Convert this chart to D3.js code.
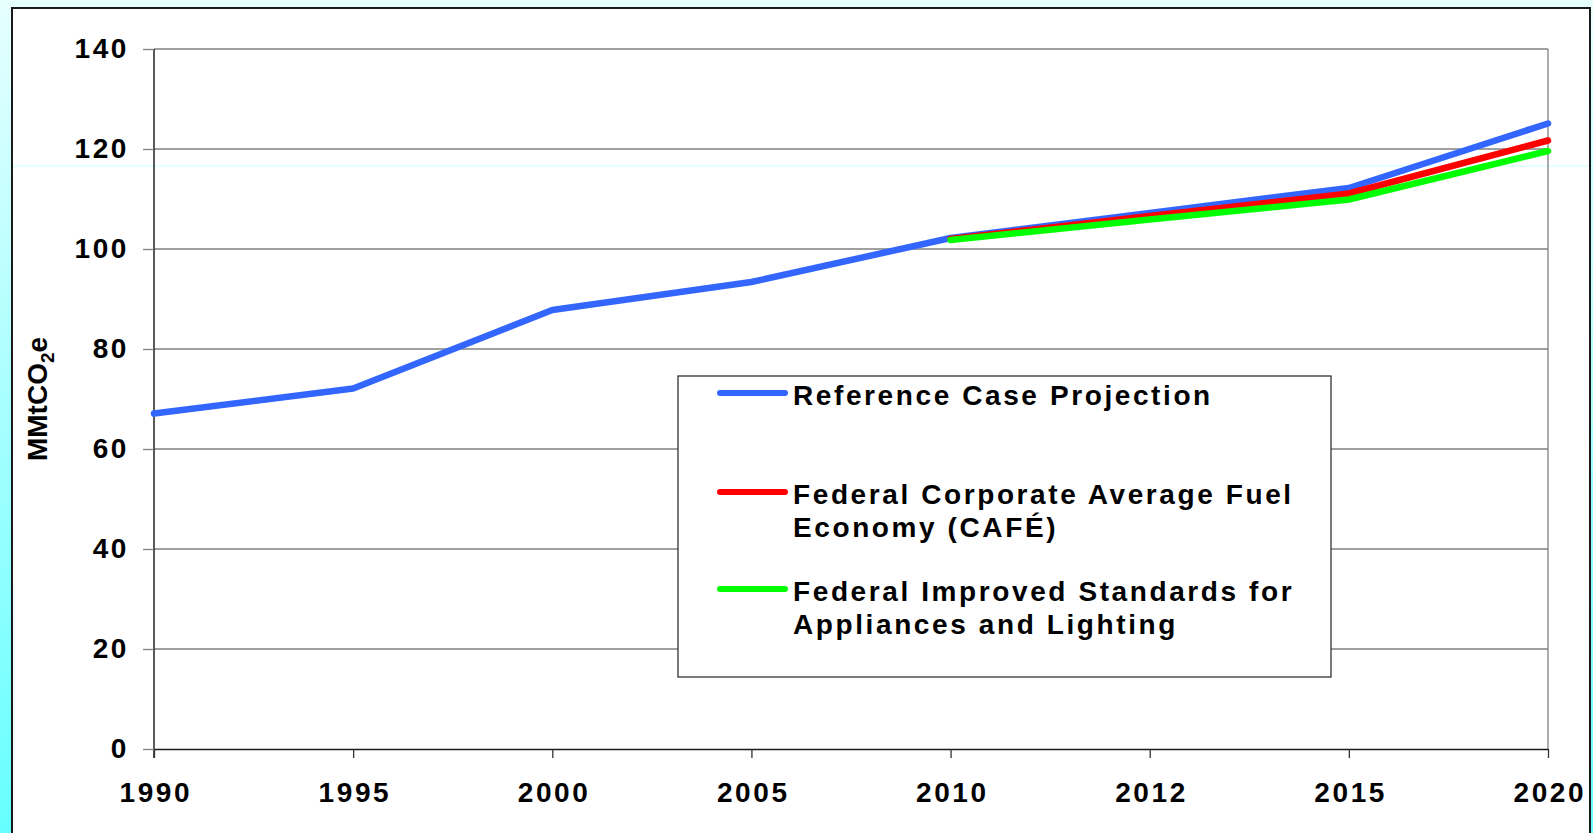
<!DOCTYPE html>
<html>
<head>
<meta charset="utf-8">
<script src="https://cdn.jsdelivr.net/npm/d3@7"></script>
<style>
  html, body { margin: 0; padding: 0; overflow: hidden; }
  body { width: 1593px; height: 833px; }
  text { font-family: "Liberation Sans", Arial, sans-serif; font-weight: bold; fill: #000; }
</style>
</head>
<body>
<div id="chart"></div>
<script>
// years along the x axis (categorical, equally spaced)
const years = ['1990', '1995', '2000', '2005', '2010', '2012', '2015', '2020'];

// MMtCO2e
const referenceCase = [67.1, 72.1, 87.8, 93.4, 102.2, 107.2, 112.2, 125.1];
const cafe = [null, null, null, null, 102.0, 106.6, 111.1, 121.7];
const appliances = [null, null, null, null, 101.8, 105.9, 109.9, 119.6];

const yTicks = [0, 20, 40, 60, 80, 100, 120, 140];

const seriesNames = [
	['Reference Case Projection'],
	['Federal Corporate Average Fuel', 'Economy (CAFÉ)'],
	['Federal Improved Standards for', 'Appliances and Lighting']
];
const seriesColors = ['#3366ff', '#ff0000', '#00ff00'];

const W = 1593, H = 833;
const margin = { top: 49, right: 45, bottom: 84, left: 154 };
const width = W - margin.left - margin.right;
const height = H - margin.top - margin.bottom;

const svg = d3.select('#chart')
	.append('svg')
	.attr('width', W)
	.attr('height', H);

// slide background
const defs = svg.append('defs');
const grad = defs.append('linearGradient')
	.attr('id', 'bg')
	.attr('x1', 0).attr('y1', 0).attr('x2', 0).attr('y2', 1);
grad.append('stop').attr('offset', '0%').attr('stop-color', '#e6ffff');
grad.append('stop').attr('offset', '100%').attr('stop-color', '#66ffff');

svg.append('rect')
	.attr('width', W).attr('height', H)
	.attr('fill', 'url(#bg)');

// white chart panel
svg.append('rect')
	.attr('x', 12).attr('y', 8)
	.attr('width', 1578).attr('height', 840)
	.attr('fill', '#fff')
	.attr('stroke', '#1a1a1a')
	.attr('stroke-width', 2);

// faint stray line from the original slide
svg.append('line')
	.attr('x1', 13).attr('x2', 1589)
	.attr('y1', 166).attr('y2', 166)
	.attr('stroke', '#ccffff')
	.attr('stroke-width', 1);

const g = svg.append('g')
	.attr('transform', `translate(${margin.left},${margin.top})`);

const x = d3.scalePoint()
	.domain(years)
	.range([0, width]);

const y = d3.scaleLinear()
	.domain([0, 140])
	.range([height, 0]);

// horizontal gridlines
g.append('g')
	.selectAll('line')
	.data(yTicks.filter(d => d > 0))
	.join('line')
	.attr('x1', 0).attr('x2', width)
	.attr('y1', d => y(d)).attr('y2', d => y(d))
	.attr('stroke', '#808080')
	.attr('stroke-width', 1.3);

// right frame
g.append('line')
	.attr('x1', width).attr('x2', width)
	.attr('y1', 0).attr('y2', height)
	.attr('stroke', '#808080')
	.attr('stroke-width', 1.3);

const ls = 2.6;

const yAxis = g.append('g')
	.call(d3.axisLeft(y).tickValues(yTicks).tickSize(11).tickPadding(14).tickSizeOuter(0));
yAxis.select('.domain').attr('stroke', '#000').attr('stroke-width', 1.3)
	.attr('d', `M0,0V${height + 9}`);
yAxis.selectAll('.tick line').attr('stroke', '#808080').attr('stroke-width', 1.3);
yAxis.selectAll('.tick text')
	.style('font-size', '28px')
	.style('letter-spacing', ls + 'px')
	.attr('fill', '#000');

const xAxis = g.append('g')
	.attr('transform', `translate(0,${height})`)
	.call(d3.axisBottom(x).tickSize(9).tickPadding(24).tickSizeOuter(0));
xAxis.select('.domain').attr('stroke', '#1a1a1a').attr('stroke-width', 1.5);
xAxis.selectAll('.tick line').attr('stroke', '#333').attr('stroke-width', 1.3);
xAxis.selectAll('.tick text')
	.style('font-size', '28px')
	.style('letter-spacing', ls + 'px')
	.attr('dx', ls / 2)
	.attr('fill', '#000');

// y axis title
const yTitle = svg.append('text')
	.attr('transform', `translate(47,399) rotate(-90)`)
	.attr('text-anchor', 'middle')
	.style('font-size', '28px');
yTitle.append('tspan').text('MMtCO');
yTitle.append('tspan').text('2').style('font-size', '19px').attr('dy', 7);
yTitle.append('tspan').text('e').attr('dy', -7);

// series lines
const line = d3.line()
	.defined(d => d != null)
	.x((d, i) => x(years[i]))
	.y(d => y(d));

g.selectAll('.series')
	.data([referenceCase, cafe, appliances])
	.join('path')
	.attr('class', 'series')
	.attr('d', d => line(d))
	.attr('fill', 'none')
	.attr('stroke', (d, i) => seriesColors[i])
	.attr('stroke-width', 6.5)
	.attr('stroke-linecap', 'round')
	.attr('stroke-linejoin', 'round');

// legend
const legend = svg.append('g');
legend.append('rect')
	.attr('x', 678).attr('y', 376)
	.attr('width', 653).attr('height', 301)
	.attr('fill', '#fff')
	.attr('stroke', '#333')
	.attr('stroke-width', 1.3);

const legendY = [393, 492, 589];
const items = legend.selectAll('.legend-item')
	.data(seriesNames)
	.join('g')
	.attr('class', 'legend-item')
	.attr('transform', (d, i) => `translate(0,${legendY[i]})`);

items.append('line')
	.attr('x1', 720).attr('x2', 785)
	.attr('y1', 0).attr('y2', 0)
	.attr('stroke', (d, i) => seriesColors[i])
	.attr('stroke-width', 6)
	.attr('stroke-linecap', 'round');

items.append('text')
	.attr('x', 793)
	.style('font-size', '28px')
	.style('letter-spacing', ls + 'px')
	.selectAll('tspan')
	.data(d => d)
	.join('tspan')
	.attr('x', 793)
	.attr('y', (d, i) => 12 + i * 33)
	.text(d => d);
</script>
</body>
</html>
